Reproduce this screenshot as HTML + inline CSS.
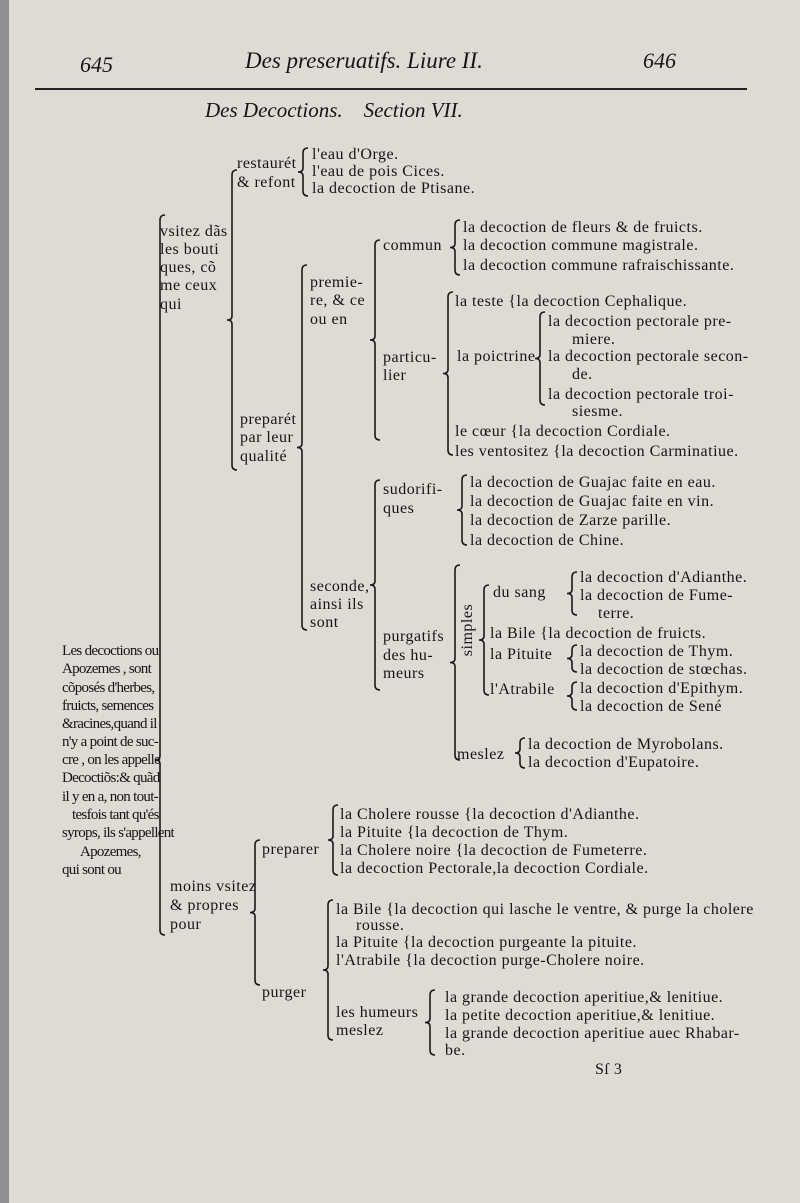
<!DOCTYPE html>
<html><head><meta charset="utf-8">
<style>
html,body{margin:0;padding:0}
body{width:800px;height:1203px;position:relative;overflow:hidden;background:#dedbd4;font-family:"Liberation Serif",serif;color:#151515}
.t{position:absolute;font-size:16px;letter-spacing:0.5px;line-height:16px;white-space:nowrap}
.l{letter-spacing:-0.7px;font-size:15px}
.h{position:absolute;font-style:italic;white-space:nowrap}
#edge{position:absolute;left:0;top:0;width:9px;height:1203px;background:#8f8f8f}
svg{position:absolute;left:0;top:0}
</style></head><body>
<div id="edge"></div>
<div class="h" style="left:80px;top:52px;font-size:22px">645</div>
<div class="h" style="left:245px;top:48px;font-size:23px">Des preseruatifs. Liure II.</div>
<div class="h" style="left:643px;top:48px;font-size:22px">646</div>
<div style="position:absolute;left:35px;top:88px;width:712px;height:2px;background:#222"></div>
<div class="h" style="left:205px;top:98px;font-size:21px">Des Decoctions.&nbsp;&nbsp;&nbsp; Section VII.</div>

<div class="t" style="left:312px;top:147px">l'eau d'Orge.</div>
<div class="t" style="left:312px;top:164px">l'eau de pois Cices.</div>
<div class="t" style="left:312px;top:181px">la decoction de Ptisane.</div>
<div class="t" style="left:237px;top:156px">restaurét</div>
<div class="t" style="left:237px;top:175px">&amp; refont</div>

<div class="t" style="left:160px;top:224px">vsitez dãs</div>
<div class="t" style="left:160px;top:242px">les bouti</div>
<div class="t" style="left:160px;top:260px">ques, cõ</div>
<div class="t" style="left:160px;top:278px">me ceux</div>
<div class="t" style="left:160px;top:297px">qui</div>

<div class="t" style="left:463px;top:220px">la decoction de fleurs &amp; de fruicts.</div>
<div class="t" style="left:463px;top:238px">la decoction commune magistrale.</div>
<div class="t" style="left:463px;top:258px">la decoction commune rafraischissante.</div>
<div class="t" style="left:383px;top:238px">commun</div>

<div class="t" style="left:310px;top:275px">premie-</div>
<div class="t" style="left:310px;top:293px">re, &amp; ce</div>
<div class="t" style="left:310px;top:312px">ou en</div>

<div class="t" style="left:455px;top:294px">la teste {la decoction Cephalique.</div>
<div class="t" style="left:548px;top:314px">la decoction pectorale pre-</div>
<div class="t" style="left:572px;top:332px">miere.</div>
<div class="t" style="left:548px;top:349px">la decoction pectorale secon-</div>
<div class="t" style="left:572px;top:367px">de.</div>
<div class="t" style="left:548px;top:387px">la decoction pectorale troi-</div>
<div class="t" style="left:572px;top:404px">siesme.</div>
<div class="t" style="left:457px;top:349px">la poictrine</div>
<div class="t" style="left:383px;top:350px">particu-</div>
<div class="t" style="left:383px;top:368px">lier</div>
<div class="t" style="left:455px;top:424px">le cœur {la decoction Cordiale.</div>
<div class="t" style="left:455px;top:444px">les ventositez {la decoction Carminatiue.</div>

<div class="t" style="left:240px;top:412px">preparét</div>
<div class="t" style="left:240px;top:430px">par leur</div>
<div class="t" style="left:240px;top:449px">qualité</div>

<div class="t" style="left:383px;top:482px">sudorifi-</div>
<div class="t" style="left:383px;top:501px">ques</div>
<div class="t" style="left:470px;top:475px">la decoction de Guajac faite en eau.</div>
<div class="t" style="left:470px;top:494px">la decoction de Guajac faite en vin.</div>
<div class="t" style="left:470px;top:513px">la decoction de Zarze parille.</div>
<div class="t" style="left:470px;top:533px">la decoction de Chine.</div>

<div class="t" style="left:310px;top:579px">seconde,</div>
<div class="t" style="left:310px;top:597px">ainsi ils</div>
<div class="t" style="left:310px;top:615px">sont</div>

<div class="t" style="left:493px;top:585px">du sang</div>
<div class="t" style="left:580px;top:570px">la decoction d'Adianthe.</div>
<div class="t" style="left:580px;top:588px">la decoction de Fume-</div>
<div class="t" style="left:598px;top:606px">terre.</div>
<div class="t" style="left:442px;top:622px;transform:rotate(-90deg)">simples</div>
<div class="t" style="left:490px;top:626px">la Bile {la decoction de fruicts.</div>
<div class="t" style="left:490px;top:647px">la Pituite</div>
<div class="t" style="left:580px;top:644px">la decoction de Thym.</div>
<div class="t" style="left:580px;top:662px">la decoction de stœchas.</div>
<div class="t" style="left:490px;top:682px">l'Atrabile</div>
<div class="t" style="left:580px;top:681px">la decoction d'Epithym.</div>
<div class="t" style="left:580px;top:699px">la decoction de Sené</div>
<div class="t" style="left:383px;top:629px">purgatifs</div>
<div class="t" style="left:383px;top:648px">des hu-</div>
<div class="t" style="left:383px;top:666px">meurs</div>
<div class="t" style="left:457px;top:747px">meslez</div>
<div class="t" style="left:528px;top:737px">la decoction de Myrobolans.</div>
<div class="t" style="left:528px;top:755px">la decoction d'Eupatoire.</div>

<div class="t l" style="left:62px;top:643px">Les decoctions ou</div>
<div class="t l" style="left:62px;top:661px">Apozemes , sont</div>
<div class="t l" style="left:62px;top:680px">cõposés d'herbes,</div>
<div class="t l" style="left:62px;top:698px">fruicts, semences</div>
<div class="t l" style="left:62px;top:716px">&amp;racines,quand il</div>
<div class="t l" style="left:62px;top:734px">n'y a point de suc-</div>
<div class="t l" style="left:62px;top:752px">cre , on les appelle</div>
<div class="t l" style="left:62px;top:770px">Decoctiõs:&amp; quãd</div>
<div class="t l" style="left:62px;top:789px">il y en a, non tout-</div>
<div class="t l" style="left:72px;top:807px">tesfois tant qu'és</div>
<div class="t l" style="left:62px;top:825px">syrops, ils s'appellent</div>
<div class="t l" style="left:80px;top:844px">Apozemes,</div>
<div class="t l" style="left:62px;top:862px">qui sont ou</div>

<div class="t" style="left:340px;top:807px">la Cholere rousse {la decoction d'Adianthe.</div>
<div class="t" style="left:340px;top:825px">la Pituite {la decoction de Thym.</div>
<div class="t" style="left:340px;top:843px">la Cholere noire {la decoction de Fumeterre.</div>
<div class="t" style="left:340px;top:861px">la decoction Pectorale,la decoction Cordiale.</div>
<div class="t" style="left:262px;top:842px">preparer</div>
<div class="t" style="left:170px;top:879px">moins vsitez</div>
<div class="t" style="left:170px;top:898px">&amp; propres</div>
<div class="t" style="left:170px;top:917px">pour</div>

<div class="t" style="left:336px;top:902px">la Bile {la decoction qui lasche le ventre, &amp; purge la cholere</div>
<div class="t" style="left:356px;top:918px">rousse.</div>
<div class="t" style="left:336px;top:935px">la Pituite {la decoction purgeante la pituite.</div>
<div class="t" style="left:336px;top:953px">l'Atrabile {la decoction purge-Cholere noire.</div>
<div class="t" style="left:262px;top:985px">purger</div>
<div class="t" style="left:336px;top:1005px">les humeurs</div>
<div class="t" style="left:336px;top:1023px">meslez</div>
<div class="t" style="left:445px;top:990px">la grande decoction aperitiue,&amp; lenitiue.</div>
<div class="t" style="left:445px;top:1008px">la petite decoction aperitiue,&amp; lenitiue.</div>
<div class="t" style="left:445px;top:1026px">la grande decoction aperitiue auec Rhabar-</div>
<div class="t" style="left:445px;top:1043px">be.</div>
<div class="t" style="left:595px;top:1062px">Sſ 3</div>

<svg id="br" width="800" height="1203"></svg>
<script>
var B=[[303,148,196],[232,170,470],[455,220,275],[375,240,440],[540,312,405],[448,292,455],[302,265,630],[462,475,545],[375,480,690],[572,572,615],[572,645,672],[572,682,710],[484,585,695],[455,565,760],[520,738,768],[160,215,935,760],[333,805,875],[255,840,985],[328,900,1040],[430,990,1055]];
var s="";
B.forEach(function(b){var x=b[0],a=b[1],c=b[2],m=b[3]||(a+c)/2;
s+='<path d="M'+(x+5)+' '+a+' Q'+x+' '+a+' '+x+' '+(a+5)+' L'+x+' '+(m-4)+' Q'+x+' '+m+' '+(x-5)+' '+m+' Q'+x+' '+m+' '+x+' '+(m+4)+' L'+x+' '+(c-5)+' Q'+x+' '+c+' '+(x+5)+' '+c+'" fill="none" stroke="#1a1a1a" stroke-width="1.6"/>';});
document.getElementById('br').innerHTML=s;
</script>
</body></html>
